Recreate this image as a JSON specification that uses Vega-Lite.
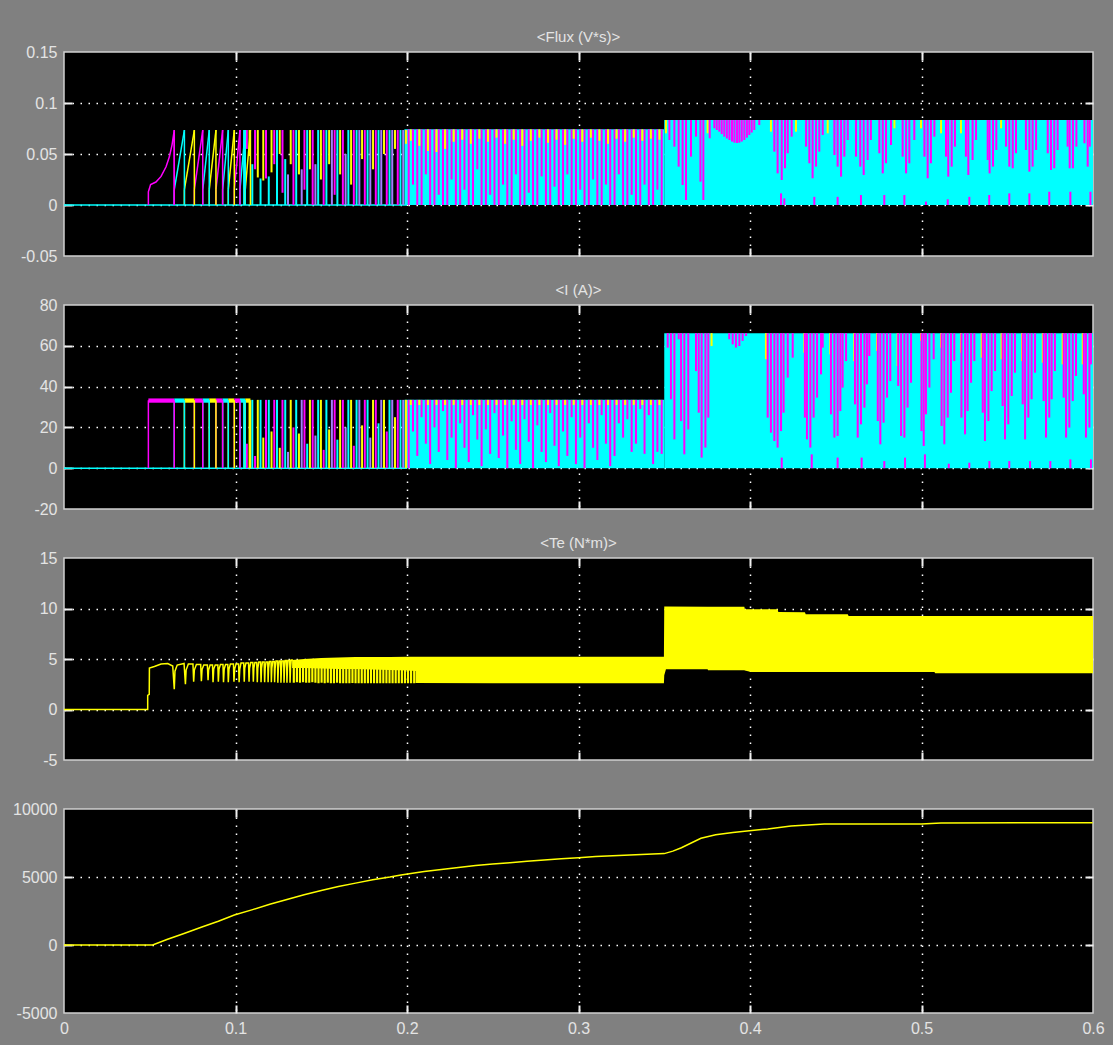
{
"$schema":"https://vega.github.io/schema/vega-lite/v6.json",
"background":"#808080",
"padding":{"left":11,"top":29,"right":10,"bottom":8},
"spacing":49,
"bounds":"flush",
"config":{
"view":{"stroke":"#d0d0d0","strokeWidth":1.5,"fill":"#000000"},
"axis":{"domain":false,"tickSize":-8,"tickColor":"#f0f0f0","tickWidth":2,"labelFont":"Liberation Sans","labelFontSize":16,"labelColor":"#e4e4e4","labelPadding":15,"labelFlush":false,"labelOverlap":false,"gridColor":"#ffffff","gridDash":[1.5,6.5],"gridWidth":1.5},
"title":{"font":"Liberation Sans","fontSize":15,"fontWeight":"normal","color":"#e4e4e4","anchor":"middle","frame":"group","baseline":"bottom","offset":-1}
},
"datasets":{
"Z":[{"s":0,"e":0.2}],
"B":[{"k":"f","s":0.1985,"e":0.35,"lo":0,"hi":0.0742},{"k":"f","s":0.35,"e":0.6,"lo":0,"hi":0.0833},{"k":"i","s":0.1985,"e":0.35,"lo":0,"hi":33.5},{"k":"i","s":0.35,"e":0.6,"lo":0,"hi":66.2}],
"P":[{"p":"m","s":0.0492,"e":0.0643},{"p":"c","s":0.0643,"e":0.0702},{"p":"y","s":0.0702,"e":0.076},{"p":"m","s":0.076,"e":0.0809},{"p":"c","s":0.0809,"e":0.0847},{"p":"y","s":0.0847,"e":0.0886},{"p":"m","s":0.0886,"e":0.0925},{"p":"c","s":0.0925,"e":0.0958},{"p":"y","s":0.0958,"e":0.0993},{"p":"m","s":0.0993,"e":0.1026},{"p":"c","s":0.1026,"e":0.1057},{"p":"y","s":0.1057,"e":0.1087}],
"MC":[{"t":0.0492,"v":0},{"t":0.0492,"v":0.013},{"t":0.0505,"v":0.02},{"t":0.0536,"v":0.0225},{"t":0.0566,"v":0.028},{"t":0.0595,"v":0.0375},{"t":0.0614,"v":0.047},{"t":0.063,"v":0.059},{"t":0.0643,"v":0.0735},{"t":0.0643,"v":0}],
"S":[
{"t":0.1050,"c":"c","fl":0,"fh":0.0735,"il":0,"ih":33.5},
{"t":0.1066,"c":"m","fl":0.055,"fh":0.0735,"il":0,"ih":12},
{"t":0.1082,"c":"y","fl":0.048,"fh":0.0735,"il":0,"ih":33.5},
{"t":0.1098,"c":"c","fl":0,"fh":0.040,"il":0,"ih":33.5},
{"t":0.1114,"c":"m","fl":0.035,"fh":0.0735,"il":0,"ih":6},
{"t":0.1130,"c":"y","fl":0.027,"fh":0.0735,"il":0,"ih":33.5},
{"t":0.1146,"c":"c","fl":0,"fh":0.026,"il":0,"ih":33.5},
{"t":0.1162,"c":"y","fl":0.024,"fh":0.0735,"il":0,"ih":15},
{"t":0.1178,"c":"m","fl":0.026,"fh":0.0735,"il":0,"ih":33.5},
{"t":0.1194,"c":"c","fl":0,"fh":0.028,"il":0,"ih":33.5},
{"t":0.1210,"c":"y","fl":0.032,"fh":0.0735,"il":0,"ih":18},
{"t":0.1226,"c":"m","fl":0.040,"fh":0.0735,"il":0,"ih":33.5},
{"t":0.1242,"c":"c","fl":0,"fh":0.0735,"il":0,"ih":33.5},
{"t":0.1258,"c":"y","fl":0.050,"fh":0.0735,"il":0,"ih":10},
{"t":0.1274,"c":"m","fl":0.012,"fh":0.0735,"il":0,"ih":33.5},
{"t":0.1290,"c":"c","fl":0,"fh":0.045,"il":0,"ih":33.5},
{"t":0.1306,"c":"l","fl":0,"fh":0.030,"il":0,"ih":8},
{"t":0.1322,"c":"y","fl":0.040,"fh":0.0735,"il":0,"ih":33.5},
{"t":0.1338,"c":"m","fl":0,"fh":0.0735,"il":0,"ih":20},
{"t":0.1354,"c":"c","fl":0,"fh":0.0735,"il":0,"ih":33.5},
{"t":0.1370,"c":"y","fl":0.030,"fh":0.0735,"il":0,"ih":17},
{"t":0.1386,"c":"l","fl":0,"fh":0.035,"il":0,"ih":33.5},
{"t":0.1402,"c":"m","fl":0.015,"fh":0.0735,"il":0,"ih":33.5},
{"t":0.1418,"c":"c","fl":0,"fh":0.0735,"il":0,"ih":12},
{"t":0.1434,"c":"y","fl":0.035,"fh":0.0735,"il":0,"ih":33.5},
{"t":0.1450,"c":"m","fl":0,"fh":0.0735,"il":0,"ih":33.5},
{"t":0.1466,"c":"l","fl":0,"fh":0.040,"il":0,"ih":16},
{"t":0.1482,"c":"c","fl":0,"fh":0.0735,"il":0,"ih":33.5},
{"t":0.1498,"c":"y","fl":0.025,"fh":0.0735,"il":0,"ih":33.5},
{"t":0.1514,"c":"m","fl":0,"fh":0.0735,"il":0,"ih":9},
{"t":0.1530,"c":"c","fl":0,"fh":0.0735,"il":0,"ih":33.5},
{"t":0.1546,"c":"y","fl":0.040,"fh":0.0735,"il":0,"ih":19},
{"t":0.1562,"c":"l","fl":0,"fh":0.0735,"il":0,"ih":33.5},
{"t":0.1578,"c":"m","fl":0.010,"fh":0.0735,"il":0,"ih":33.5},
{"t":0.1594,"c":"c","fl":0,"fh":0.0735,"il":0,"ih":14},
{"t":0.1610,"c":"y","fl":0.030,"fh":0.0735,"il":0,"ih":33.5},
{"t":0.1626,"c":"m","fl":0,"fh":0.0735,"il":0,"ih":33.5},
{"t":0.1642,"c":"l","fl":0,"fh":0.050,"il":0,"ih":20},
{"t":0.1658,"c":"c","fl":0,"fh":0.0735,"il":0,"ih":33.5},
{"t":0.1674,"c":"y","fl":0.020,"fh":0.0735,"il":0,"ih":33.5},
{"t":0.1690,"c":"m","fl":0,"fh":0.0735,"il":0,"ih":11},
{"t":0.1706,"c":"c","fl":0,"fh":0.0735,"il":0,"ih":33.5},
{"t":0.1722,"c":"l","fl":0,"fh":0.0735,"il":0,"ih":33.5},
{"t":0.1738,"c":"y","fl":0.045,"fh":0.0735,"il":0,"ih":21},
{"t":0.1754,"c":"m","fl":0,"fh":0.0735,"il":0,"ih":33.5},
{"t":0.1770,"c":"c","fl":0,"fh":0.0735,"il":0,"ih":33.5},
{"t":0.1786,"c":"l","fl":0,"fh":0.0735,"il":0,"ih":15},
{"t":0.1802,"c":"y","fl":0.035,"fh":0.0735,"il":0,"ih":33.5},
{"t":0.1818,"c":"m","fl":0,"fh":0.0735,"il":0,"ih":33.5},
{"t":0.1834,"c":"c","fl":0,"fh":0.0735,"il":0,"ih":22},
{"t":0.1850,"c":"l","fl":0,"fh":0.0735,"il":0,"ih":33.5},
{"t":0.1866,"c":"y","fl":0.05,"fh":0.0735,"il":0,"ih":33.5},
{"t":0.1882,"c":"m","fl":0,"fh":0.0735,"il":0,"ih":18},
{"t":0.1898,"c":"c","fl":0,"fh":0.0735,"il":0,"ih":33.5},
{"t":0.1914,"c":"l","fl":0,"fh":0.0735,"il":0,"ih":33.5},
{"t":0.1930,"c":"y","fl":0.055,"fh":0.0735,"il":0,"ih":25},
{"t":0.1946,"c":"m","fl":0,"fh":0.0735,"il":0,"ih":33.5},
{"t":0.1962,"c":"c","fl":0,"fh":0.0735,"il":0,"ih":33.5},
{"t":0.1978,"c":"l","fl":0,"fh":0.0735,"il":0,"ih":33.5},
{"t":0.1994,"c":"y","fl":0.06,"fh":0.0735,"il":0,"ih":33.5},
{"t":0.2010,"c":"m","fl":0,"fh":0.0742,"il":0,"ih":33.5},
{"t":0.2035,"c":"m","fl":0.02,"fh":0.0742,"il":18,"ih":33.5},
{"t":0.2060,"c":"m","fl":0,"fh":0.0742,"il":6,"ih":33.5},
{"t":0.2085,"c":"m","fl":0,"fh":0.0742,"il":25,"ih":33.5},
{"t":0.2110,"c":"m","fl":0.03,"fh":0.0742,"il":12,"ih":33.5},
{"t":0.2135,"c":"m","fl":0,"fh":0.0742,"il":2,"ih":33.5},
{"t":0.2160,"c":"m","fl":0,"fh":0.0742,"il":20,"ih":33.5},
{"t":0.2185,"c":"m","fl":0.01,"fh":0.0742,"il":8,"ih":33.5},
{"t":0.2210,"c":"m","fl":0,"fh":0.0742,"il":28,"ih":33.5},
{"t":0.2235,"c":"m","fl":0,"fh":0.0742,"il":4,"ih":33.5},
{"t":0.2260,"c":"m","fl":0.025,"fh":0.0742,"il":15,"ih":33.5},
{"t":0.2285,"c":"m","fl":0,"fh":0.0742,"il":0,"ih":33.5},
{"t":0.2310,"c":"m","fl":0,"fh":0.0742,"il":22,"ih":33.5},
{"t":0.2335,"c":"m","fl":0.015,"fh":0.0742,"il":10,"ih":33.5},
{"t":0.2360,"c":"m","fl":0,"fh":0.0742,"il":3,"ih":33.5},
{"t":0.2385,"c":"m","fl":0,"fh":0.0742,"il":26,"ih":33.5},
{"t":0.2410,"c":"m","fl":0.035,"fh":0.0742,"il":14,"ih":33.5},
{"t":0.2435,"c":"m","fl":0,"fh":0.0742,"il":1,"ih":33.5},
{"t":0.2460,"c":"m","fl":0,"fh":0.0742,"il":19,"ih":33.5},
{"t":0.2485,"c":"m","fl":0.01,"fh":0.0742,"il":7,"ih":33.5},
{"t":0.2510,"c":"m","fl":0,"fh":0.0742,"il":27,"ih":33.5},
{"t":0.2535,"c":"m","fl":0,"fh":0.0742,"il":5,"ih":33.5},
{"t":0.2560,"c":"m","fl":0.02,"fh":0.0742,"il":16,"ih":33.5},
{"t":0.2585,"c":"m","fl":0,"fh":0.0742,"il":0,"ih":33.5},
{"t":0.2610,"c":"m","fl":0,"fh":0.0742,"il":23,"ih":33.5},
{"t":0.2635,"c":"m","fl":0.03,"fh":0.0742,"il":9,"ih":33.5},
{"t":0.2660,"c":"m","fl":0,"fh":0.0742,"il":2,"ih":33.5},
{"t":0.2685,"c":"m","fl":0,"fh":0.0742,"il":24,"ih":33.5},
{"t":0.2710,"c":"m","fl":0.012,"fh":0.0742,"il":13,"ih":33.5},
{"t":0.2735,"c":"m","fl":0,"fh":0.0742,"il":0,"ih":33.5},
{"t":0.2760,"c":"m","fl":0,"fh":0.0742,"il":21,"ih":33.5},
{"t":0.2785,"c":"m","fl":0.028,"fh":0.0742,"il":8,"ih":33.5},
{"t":0.2810,"c":"m","fl":0,"fh":0.0742,"il":3,"ih":33.5},
{"t":0.2835,"c":"m","fl":0,"fh":0.0742,"il":27,"ih":33.5},
{"t":0.2860,"c":"m","fl":0.018,"fh":0.0742,"il":11,"ih":33.5},
{"t":0.2885,"c":"m","fl":0,"fh":0.0742,"il":1,"ih":33.5},
{"t":0.2910,"c":"m","fl":0,"fh":0.0742,"il":18,"ih":33.5},
{"t":0.2935,"c":"m","fl":0.03,"fh":0.0742,"il":6,"ih":33.5},
{"t":0.2960,"c":"m","fl":0,"fh":0.0742,"il":25,"ih":33.5},
{"t":0.2985,"c":"m","fl":0,"fh":0.0742,"il":2,"ih":33.5},
{"t":0.3010,"c":"m","fl":0.015,"fh":0.0742,"il":15,"ih":33.5},
{"t":0.3035,"c":"m","fl":0,"fh":0.0742,"il":0,"ih":33.5},
{"t":0.3060,"c":"m","fl":0,"fh":0.0742,"il":22,"ih":33.5},
{"t":0.3085,"c":"m","fl":0.025,"fh":0.0742,"il":10,"ih":33.5},
{"t":0.3110,"c":"m","fl":0,"fh":0.0742,"il":4,"ih":33.5},
{"t":0.3135,"c":"m","fl":0,"fh":0.0742,"il":26,"ih":33.5},
{"t":0.3160,"c":"m","fl":0.02,"fh":0.0742,"il":12,"ih":33.5},
{"t":0.3185,"c":"m","fl":0,"fh":0.0742,"il":1,"ih":33.5},
{"t":0.3210,"c":"m","fl":0,"fh":0.0742,"il":6,"ih":33.5},
{"t":0.3235,"c":"m","fl":0.03,"fh":0.0742,"il":22,"ih":33.5},
{"t":0.3260,"c":"m","fl":0,"fh":0.0742,"il":15,"ih":33.5},
{"t":0.3285,"c":"m","fl":0,"fh":0.0742,"il":24,"ih":33.5},
{"t":0.3310,"c":"m","fl":0.01,"fh":0.0742,"il":8,"ih":33.5},
{"t":0.3335,"c":"m","fl":0,"fh":0.0742,"il":12,"ih":33.5},
{"t":0.3360,"c":"m","fl":0,"fh":0.0742,"il":29,"ih":33.5},
{"t":0.3385,"c":"m","fl":0.02,"fh":0.0742,"il":7,"ih":33.5},
{"t":0.3410,"c":"m","fl":0,"fh":0.0742,"il":26,"ih":33.5},
{"t":0.3435,"c":"m","fl":0,"fh":0.0742,"il":2,"ih":33.5},
{"t":0.3460,"c":"m","fl":0.015,"fh":0.0742,"il":8,"ih":33.5},
{"t":0.3485,"c":"m","fl":0,"fh":0.0742,"il":7,"ih":33.5},
{"t":0.2022,"c":"y","fl":0.063,"fh":0.0742,"il":31,"ih":33.5},
{"t":0.2072,"c":"y","fl":0.058,"fh":0.0742,"il":31,"ih":33.5},
{"t":0.2122,"c":"y","fl":0.053,"fh":0.0742,"il":31,"ih":33.5},
{"t":0.2172,"c":"y","fl":0.052,"fh":0.0742,"il":31,"ih":33.5},
{"t":0.2222,"c":"y","fl":0.055,"fh":0.0742,"il":31,"ih":33.5},
{"t":0.2272,"c":"y","fl":0.062,"fh":0.0742,"il":31,"ih":33.5},
{"t":0.2322,"c":"y","fl":0.064,"fh":0.0742,"il":31,"ih":33.5},
{"t":0.2372,"c":"y","fl":0.060,"fh":0.0742,"il":31,"ih":33.5},
{"t":0.2422,"c":"y","fl":0.065,"fh":0.0742,"il":31,"ih":33.5},
{"t":0.2472,"c":"y","fl":0.062,"fh":0.0742,"il":31,"ih":33.5},
{"t":0.2522,"c":"y","fl":0.066,"fh":0.0742,"il":31,"ih":33.5},
{"t":0.2572,"c":"y","fl":0.060,"fh":0.0742,"il":31,"ih":33.5},
{"t":0.2622,"c":"y","fl":0.064,"fh":0.0742,"il":31,"ih":33.5},
{"t":0.2672,"c":"y","fl":0.058,"fh":0.0742,"il":31,"ih":33.5},
{"t":0.2722,"c":"y","fl":0.063,"fh":0.0742,"il":31,"ih":33.5},
{"t":0.2772,"c":"y","fl":0.066,"fh":0.0742,"il":31,"ih":33.5},
{"t":0.2822,"c":"y","fl":0.061,"fh":0.0742,"il":31,"ih":33.5},
{"t":0.2872,"c":"y","fl":0.064,"fh":0.0742,"il":31,"ih":33.5},
{"t":0.2922,"c":"y","fl":0.059,"fh":0.0742,"il":31,"ih":33.5},
{"t":0.2972,"c":"y","fl":0.065,"fh":0.0742,"il":31,"ih":33.5},
{"t":0.3022,"c":"y","fl":0.062,"fh":0.0742,"il":31,"ih":33.5},
{"t":0.3072,"c":"y","fl":0.066,"fh":0.0742,"il":31,"ih":33.5},
{"t":0.3122,"c":"y","fl":0.063,"fh":0.0742,"il":31,"ih":33.5},
{"t":0.3172,"c":"y","fl":0.060,"fh":0.0742,"il":31,"ih":33.5},
{"t":0.3222,"c":"y","fl":0.065,"fh":0.0742,"il":31,"ih":33.5},
{"t":0.3272,"c":"y","fl":0.062,"fh":0.0742,"il":31,"ih":33.5},
{"t":0.3322,"c":"y","fl":0.066,"fh":0.0742,"il":31,"ih":33.5},
{"t":0.3372,"c":"y","fl":0.063,"fh":0.0742,"il":31,"ih":33.5},
{"t":0.3422,"c":"y","fl":0.065,"fh":0.0742,"il":31,"ih":33.5},
{"t":0.3472,"c":"y","fl":0.064,"fh":0.0742,"il":31,"ih":33.5},
{"t":0.3510,"c":"y","fl":0.0703,"fh":0.0833},
{"t":0.3530,"c":"m","fl":0.0637,"fh":0.0833},
{"t":0.3559,"c":"m","fl":0.0572,"fh":0.0833},
{"t":0.3584,"c":"m","fl":0.0376,"fh":0.0833},
{"t":0.3607,"c":"m","fl":0.0196,"fh":0.0833},
{"t":0.3627,"c":"m","fl":0.0049,"fh":0.0833},
{"t":0.3656,"c":"m","fl":0.0474,"fh":0.0833},
{"t":0.3685,"c":"m","fl":0.0670,"fh":0.0833},
{"t":0.3711,"c":"m","fl":0.0229,"fh":0.0833},
{"t":0.3728,"c":"m","fl":0.0049,"fh":0.0833},
{"t":0.3753,"c":"y","fl":0.0703,"fh":0.0833},
{"t":0.3765,"c":"m","fl":0.0654,"fh":0.0833},
{"t":0.3792,"c":"m","fl":0.0752,"fh":0.0833},
{"t":0.3806,"c":"m","fl":0.0735,"fh":0.0833},
{"t":0.3821,"c":"m","fl":0.0719,"fh":0.0833},
{"t":0.3835,"c":"m","fl":0.0695,"fh":0.0833},
{"t":0.3850,"c":"m","fl":0.0670,"fh":0.0833},
{"t":0.3865,"c":"m","fl":0.0652,"fh":0.0833},
{"t":0.3880,"c":"m","fl":0.0637,"fh":0.0833},
{"t":0.3895,"c":"m","fl":0.0622,"fh":0.0833},
{"t":0.3909,"c":"m","fl":0.0611,"fh":0.0833},
{"t":0.3924,"c":"m","fl":0.0608,"fh":0.0833},
{"t":0.3938,"c":"m","fl":0.0611,"fh":0.0833},
{"t":0.3952,"c":"m","fl":0.0622,"fh":0.0833},
{"t":0.3967,"c":"m","fl":0.0637,"fh":0.0833},
{"t":0.3982,"c":"m","fl":0.0660,"fh":0.0833},
{"t":0.3996,"c":"m","fl":0.0686,"fh":0.0833},
{"t":0.4010,"c":"m","fl":0.0710,"fh":0.0833},
{"t":0.4025,"c":"m","fl":0.0735,"fh":0.0833},
{"t":0.4054,"c":"m","fl":0.0784,"fh":0.0833},
{"t":0.4122,"c":"y","fl":0.0719,"fh":0.0833},
{"t":0.4142,"c":"m","fl":0.0523,"fh":0.0833},
{"t":0.4161,"c":"m","fl":0.0310,"fh":0.0833},
{"t":0.4185,"c":"m","fl":0.0245,"fh":0.0833},
{"t":0.4204,"c":"m","fl":0.0360,"fh":0.0833},
{"t":0.4220,"c":"m","fl":0.0507,"fh":0.0833},
{"t":0.4243,"c":"m","fl":0.0670,"fh":0.0833},
{"t":0.4268,"c":"y","fl":0.0719,"fh":0.0833},
{"t":0.4327,"c":"m","fl":0.0572,"fh":0.0833},
{"t":0.4346,"c":"m","fl":0.0409,"fh":0.0833},
{"t":0.4365,"c":"m","fl":0.0262,"fh":0.0833},
{"t":0.4385,"c":"m","fl":0.0376,"fh":0.0833},
{"t":0.4404,"c":"m","fl":0.0523,"fh":0.0833},
{"t":0.4424,"c":"m","fl":0.0686,"fh":0.0833},
{"t":0.4453,"c":"y","fl":0.0703,"fh":0.0833},
{"t":0.4492,"c":"m","fl":0.0490,"fh":0.0833},
{"t":0.4511,"c":"m","fl":0.0376,"fh":0.0833},
{"t":0.4531,"c":"m","fl":0.0278,"fh":0.0833},
{"t":0.4550,"c":"m","fl":0.0474,"fh":0.0833},
{"t":0.4570,"c":"m","fl":0.0637,"fh":0.0833},
{"t":0.4618,"c":"m","fl":0.0474,"fh":0.0833},
{"t":0.4643,"c":"m","fl":0.0376,"fh":0.0833},
{"t":0.4663,"c":"m","fl":0.0294,"fh":0.0833},
{"t":0.4686,"c":"m","fl":0.0441,"fh":0.0833},
{"t":0.4705,"c":"m","fl":0.0637,"fh":0.0833},
{"t":0.4754,"c":"m","fl":0.0507,"fh":0.0833},
{"t":0.4774,"c":"m","fl":0.0310,"fh":0.0833},
{"t":0.4793,"c":"m","fl":0.0409,"fh":0.0833},
{"t":0.4822,"c":"m","fl":0.0588,"fh":0.0833},
{"t":0.4842,"c":"y","fl":0.0752,"fh":0.0833},
{"t":0.4890,"c":"m","fl":0.0474,"fh":0.0833},
{"t":0.4910,"c":"m","fl":0.0310,"fh":0.0833},
{"t":0.4929,"c":"m","fl":0.0409,"fh":0.0833},
{"t":0.4958,"c":"m","fl":0.0637,"fh":0.0833},
{"t":0.4997,"c":"y","fl":0.0752,"fh":0.0833},
{"t":0.5017,"c":"m","fl":0.0474,"fh":0.0833},
{"t":0.5036,"c":"m","fl":0.0262,"fh":0.0833},
{"t":0.5055,"c":"m","fl":0.0409,"fh":0.0833},
{"t":0.5075,"c":"m","fl":0.0670,"fh":0.0833},
{"t":0.5114,"c":"y","fl":0.0703,"fh":0.0833},
{"t":0.5143,"c":"m","fl":0.0474,"fh":0.0833},
{"t":0.5156,"c":"m","fl":0.0278,"fh":0.0833},
{"t":0.5176,"c":"m","fl":0.0376,"fh":0.0833},
{"t":0.5195,"c":"m","fl":0.0572,"fh":0.0833},
{"t":0.5230,"c":"y","fl":0.0703,"fh":0.0833},
{"t":0.5259,"c":"m","fl":0.0474,"fh":0.0833},
{"t":0.5273,"c":"m","fl":0.0294,"fh":0.0833},
{"t":0.5298,"c":"m","fl":0.0441,"fh":0.0833},
{"t":0.5318,"c":"m","fl":0.0637,"fh":0.0833},
{"t":0.5386,"c":"m","fl":0.0441,"fh":0.0833},
{"t":0.5397,"c":"m","fl":0.0310,"fh":0.0833},
{"t":0.5417,"c":"m","fl":0.0376,"fh":0.0833},
{"t":0.5436,"c":"m","fl":0.0539,"fh":0.0833},
{"t":0.5464,"c":"y","fl":0.0752,"fh":0.0833},
{"t":0.5493,"c":"m","fl":0.0572,"fh":0.0833},
{"t":0.5512,"c":"m","fl":0.0376,"fh":0.0833},
{"t":0.5532,"c":"m","fl":0.0360,"fh":0.0833},
{"t":0.5551,"c":"m","fl":0.0507,"fh":0.0833},
{"t":0.5609,"c":"m","fl":0.0539,"fh":0.0833},
{"t":0.5629,"c":"m","fl":0.0327,"fh":0.0833},
{"t":0.5648,"c":"m","fl":0.0376,"fh":0.0833},
{"t":0.5668,"c":"m","fl":0.0539,"fh":0.0833},
{"t":0.5736,"c":"m","fl":0.0507,"fh":0.0833},
{"t":0.5755,"c":"m","fl":0.0343,"fh":0.0833},
{"t":0.5774,"c":"m","fl":0.0360,"fh":0.0833},
{"t":0.5794,"c":"m","fl":0.0539,"fh":0.0833},
{"t":0.5852,"c":"m","fl":0.0572,"fh":0.0833},
{"t":0.5864,"c":"m","fl":0.0360,"fh":0.0833},
{"t":0.5883,"c":"m","fl":0.0360,"fh":0.0833},
{"t":0.5903,"c":"m","fl":0.0572,"fh":0.0833},
{"t":0.5950,"c":"m","fl":0.0605,"fh":0.0833},
{"t":0.5969,"c":"m","fl":0.0376,"fh":0.0833},
{"t":0.5981,"c":"m","fl":0.0572,"fh":0.0833},
{"t":0.4181,"c":"m","fl":0,"fh":0.0114},
{"t":0.4200,"c":"m","fl":0,"fh":0.0065},
{"t":0.4375,"c":"m","fl":0,"fh":0.008},
{"t":0.4511,"c":"m","fl":0,"fh":0.008},
{"t":0.4647,"c":"m","fl":0,"fh":0.0098},
{"t":0.4783,"c":"m","fl":0,"fh":0.0098},
{"t":0.4900,"c":"m","fl":0,"fh":0.0098},
{"t":0.5026,"c":"m","fl":0,"fh":0.0033},
{"t":0.5153,"c":"m","fl":0,"fh":0.0056},
{"t":0.5279,"c":"m","fl":0,"fh":0.008},
{"t":0.5395,"c":"m","fl":0,"fh":0.0098},
{"t":0.5512,"c":"m","fl":0,"fh":0.0114},
{"t":0.5629,"c":"m","fl":0,"fh":0.0114},
{"t":0.5745,"c":"m","fl":0,"fh":0.013},
{"t":0.5868,"c":"m","fl":0,"fh":0.013},
{"t":0.5985,"c":"m","fl":0,"fh":0.013},
{"t":0.3520,"c":"m","il":59.1,"ih":66.2},
{"t":0.3539,"c":"m","il":33.8,"ih":66.2},
{"t":0.3559,"c":"m","il":14.1,"ih":66.2},
{"t":0.3584,"c":"m","il":63.2,"ih":66.2},
{"t":0.3598,"c":"m","il":23.1,"ih":66.2},
{"t":0.3617,"c":"m","il":6.8,"ih":66.2},
{"t":0.3640,"c":"m","il":19.0,"ih":66.2},
{"t":0.3685,"c":"m","il":47.6,"ih":66.2},
{"t":0.3701,"c":"m","il":27.2,"ih":66.2},
{"t":0.3718,"c":"m","il":5.2,"ih":66.2},
{"t":0.3740,"c":"m","il":10.1,"ih":66.2},
{"t":0.3757,"c":"m","il":24.8,"ih":66.2},
{"t":0.3776,"c":"y","il":59.9,"ih":66.2},
{"t":0.3879,"c":"m","il":63.2,"ih":66.2},
{"t":0.3899,"c":"m","il":60.7,"ih":66.2},
{"t":0.3918,"c":"m","il":59.1,"ih":66.2},
{"t":0.3938,"c":"m","il":59.9,"ih":66.2},
{"t":0.3957,"c":"m","il":62.4,"ih":66.2},
{"t":0.3977,"c":"m","il":64.8,"ih":66.2},
{"t":0.4093,"c":"y","il":53.4,"ih":66.2},
{"t":0.4103,"c":"m","il":24.8,"ih":66.2},
{"t":0.4122,"c":"m","il":17.4,"ih":66.2},
{"t":0.4142,"c":"m","il":13.3,"ih":66.2},
{"t":0.4161,"c":"m","il":10.1,"ih":66.2},
{"t":0.4181,"c":"m","il":18.2,"ih":66.2},
{"t":0.4196,"c":"m","il":27.2,"ih":66.2},
{"t":0.4220,"c":"m","il":44.4,"ih":66.2},
{"t":0.4249,"c":"m","il":54.2,"ih":66.2},
{"t":0.4317,"c":"y","il":56.6,"ih":66.2},
{"t":0.4320,"c":"m","il":24.8,"ih":66.2},
{"t":0.4332,"c":"m","il":14.1,"ih":66.2},
{"t":0.4352,"c":"m","il":10.1,"ih":66.2},
{"t":0.4371,"c":"m","il":24.8,"ih":66.2},
{"t":0.4391,"c":"m","il":34.6,"ih":66.2},
{"t":0.4414,"c":"m","il":46.0,"ih":66.2},
{"t":0.4424,"c":"m","il":59.1,"ih":66.2},
{"t":0.4468,"c":"y","il":55.8,"ih":66.2},
{"t":0.4472,"c":"m","il":26.4,"ih":66.2},
{"t":0.4492,"c":"m","il":15.0,"ih":66.2},
{"t":0.4511,"c":"m","il":15.8,"ih":66.2},
{"t":0.4527,"c":"m","il":28.0,"ih":66.2},
{"t":0.4540,"c":"m","il":39.5,"ih":66.2},
{"t":0.4560,"c":"m","il":52.5,"ih":66.2},
{"t":0.4608,"c":"y","il":52.5,"ih":66.2},
{"t":0.4612,"c":"m","il":31.3,"ih":66.2},
{"t":0.4628,"c":"m","il":15.0,"ih":66.2},
{"t":0.4647,"c":"m","il":21.5,"ih":66.2},
{"t":0.4667,"c":"m","il":29.7,"ih":66.2},
{"t":0.4682,"c":"m","il":41.1,"ih":66.2},
{"t":0.4696,"c":"m","il":55.0,"ih":66.2},
{"t":0.4741,"c":"y","il":57.5,"ih":66.2},
{"t":0.4745,"c":"m","il":23.1,"ih":66.2},
{"t":0.4760,"c":"m","il":11.7,"ih":66.2},
{"t":0.4779,"c":"m","il":22.3,"ih":66.2},
{"t":0.4799,"c":"m","il":34.6,"ih":66.2},
{"t":0.4818,"c":"m","il":42.7,"ih":66.2},
{"t":0.4861,"c":"y","il":50.1,"ih":66.2},
{"t":0.4864,"c":"m","il":40.3,"ih":66.2},
{"t":0.4881,"c":"m","il":15.8,"ih":66.2},
{"t":0.4900,"c":"m","il":15.0,"ih":66.2},
{"t":0.4919,"c":"m","il":29.7,"ih":66.2},
{"t":0.4939,"c":"m","il":41.9,"ih":66.2},
{"t":0.4997,"c":"y","il":62.4,"ih":66.2},
{"t":0.5000,"c":"m","il":18.2,"ih":66.2},
{"t":0.5013,"c":"m","il":10.9,"ih":66.2},
{"t":0.5026,"c":"m","il":26.4,"ih":66.2},
{"t":0.5046,"c":"m","il":39.5,"ih":66.2},
{"t":0.5071,"c":"m","il":53.4,"ih":66.2},
{"t":0.5114,"c":"y","il":59.1,"ih":66.2},
{"t":0.5117,"c":"m","il":20.7,"ih":66.2},
{"t":0.5133,"c":"m","il":11.7,"ih":66.2},
{"t":0.5153,"c":"m","il":24.8,"ih":66.2},
{"t":0.5172,"c":"m","il":37.0,"ih":66.2},
{"t":0.5191,"c":"m","il":52.5,"ih":66.2},
{"t":0.5230,"c":"y","il":56.6,"ih":66.2},
{"t":0.5233,"c":"m","il":24.8,"ih":66.2},
{"t":0.5254,"c":"m","il":16.6,"ih":66.2},
{"t":0.5269,"c":"m","il":28.0,"ih":66.2},
{"t":0.5289,"c":"m","il":41.9,"ih":66.2},
{"t":0.5308,"c":"m","il":52.5,"ih":66.2},
{"t":0.5351,"c":"y","il":54.2,"ih":66.2},
{"t":0.5357,"c":"m","il":27.2,"ih":66.2},
{"t":0.5370,"c":"m","il":13.3,"ih":66.2},
{"t":0.5390,"c":"m","il":23.1,"ih":66.2},
{"t":0.5409,"c":"m","il":37.8,"ih":66.2},
{"t":0.5429,"c":"m","il":47.6,"ih":66.2},
{"t":0.5467,"c":"y","il":53.4,"ih":66.2},
{"t":0.5473,"c":"m","il":30.5,"ih":66.2},
{"t":0.5487,"c":"m","il":14.1,"ih":66.2},
{"t":0.5506,"c":"m","il":21.5,"ih":66.2},
{"t":0.5526,"c":"m","il":35.4,"ih":66.2},
{"t":0.5545,"c":"m","il":46.8,"ih":66.2},
{"t":0.5586,"c":"y","il":52.5,"ih":66.2},
{"t":0.5590,"c":"m","il":31.3,"ih":66.2},
{"t":0.5604,"c":"m","il":14.1,"ih":66.2},
{"t":0.5623,"c":"m","il":24.8,"ih":66.2},
{"t":0.5642,"c":"m","il":33.8,"ih":66.2},
{"t":0.5662,"c":"m","il":46.8,"ih":66.2},
{"t":0.5707,"c":"y","il":51.7,"ih":66.2},
{"t":0.5712,"c":"m","il":32.9,"ih":66.2},
{"t":0.5726,"c":"m","il":15.0,"ih":66.2},
{"t":0.5745,"c":"m","il":24.8,"ih":66.2},
{"t":0.5759,"c":"m","il":33.8,"ih":66.2},
{"t":0.5778,"c":"m","il":47.6,"ih":66.2},
{"t":0.5823,"c":"y","il":50.9,"ih":66.2},
{"t":0.5829,"c":"m","il":34.6,"ih":66.2},
{"t":0.5843,"c":"m","il":15.0,"ih":66.2},
{"t":0.5862,"c":"m","il":19.9,"ih":66.2},
{"t":0.5882,"c":"m","il":32.9,"ih":66.2},
{"t":0.5901,"c":"m","il":45.2,"ih":66.2},
{"t":0.5940,"c":"y","il":50.9,"ih":66.2},
{"t":0.5946,"c":"m","il":36.2,"ih":66.2},
{"t":0.5959,"c":"m","il":15.0,"ih":66.2},
{"t":0.5979,"c":"m","il":19.9,"ih":66.2},
{"t":0.5988,"c":"m","il":50.9,"ih":66.2},
{"t":0.4185,"c":"m","il":0,"ih":5.2},
{"t":0.4360,"c":"m","il":0,"ih":6.8},
{"t":0.4511,"c":"m","il":0,"ih":5.2},
{"t":0.4651,"c":"m","il":0,"ih":5.2},
{"t":0.4783,"c":"m","il":0,"ih":3.5},
{"t":0.4904,"c":"m","il":0,"ih":5.2},
{"t":0.5020,"c":"m","il":0,"ih":6.8},
{"t":0.5159,"c":"m","il":0,"ih":2.2},
{"t":0.5279,"c":"m","il":0,"ih":2.7},
{"t":0.5396,"c":"m","il":0,"ih":3.5},
{"t":0.5512,"c":"m","il":0,"ih":3.5},
{"t":0.5633,"c":"m","il":0,"ih":3.5},
{"t":0.5751,"c":"m","il":0,"ih":3.5},
{"t":0.5868,"c":"m","il":0,"ih":4.3},
{"t":0.5988,"c":"m","il":0,"ih":4.3}
],
"TL":[{"t":0,"v":0},{"t":0.0488,"v":0},{"t":0.0488,"v":1.4},{"t":0.0497,"v":1.5},{"t":0.0498,"v":4.1},{"t":0.0527,"v":4.25},{"t":0.0566,"v":4.5},{"t":0.0605,"v":4.55},{"t":0.0634,"v":4.3},{"t":0.0643,"v":2.0},{"t":0.0647,"v":3.8},{"t":0.066,"v":4.4},{"t":0.07,"v":4.55},{"t":0.0708,"v":2.5},{"t":0.0712,"v":3.9},{"t":0.0725,"v":4.5},{"t":0.0752,"v":4.5},{"t":0.0756,"v":2.75},{"t":0.076,"v":3.9},{"t":0.0772,"v":4.45},{"t":0.0797,"v":4.45},{"t":0.0801,"v":2.8},{"t":0.0805,"v":3.95},{"t":0.0815,"v":4.4},{"t":0.0836,"v":4.4},{"t":0.084,"v":2.9},{"t":0.0843,"v":3.9},{"t":0.0852,"v":4.4},{"t":0.0866,"v":4.4},{"t":0.0869,"v":2.7},{"t":0.0873,"v":4.0},{"t":0.0882,"v":4.4},{"t":0.0897,"v":4.4},{"t":0.09,"v":2.75},{"t":0.0904,"v":4.0},{"t":0.0912,"v":4.45},{"t":0.0927,"v":4.45},{"t":0.093,"v":2.7},{"t":0.0934,"v":4.0},{"t":0.0942,"v":4.45},{"t":0.0955,"v":4.45},{"t":0.0958,"v":2.7},{"t":0.0962,"v":4.0},{"t":0.097,"v":4.5},{"t":0.0988,"v":4.5},{"t":0.0991,"v":2.75},{"t":0.0995,"v":4.0},{"t":0.1003,"v":4.5},{"t":0.1018,"v":4.5},{"t":0.1021,"v":2.7},{"t":0.1025,"v":4.0},{"t":0.1032,"v":4.6},{"t":0.1048,"v":4.6},{"t":0.1051,"v":2.75},{"t":0.1054,"v":4.1},{"t":0.1061,"v":4.6},{"t":0.1076,"v":4.6},{"t":0.1079,"v":2.75},{"t":0.1082,"v":4.1},{"t":0.1089,"v":4.65},{"t":0.1101,"v":4.65},{"t":0.1104,"v":2.75},{"t":0.1107,"v":4.1},{"t":0.1113,"v":4.65},{"t":0.1124,"v":4.65},{"t":0.1127,"v":2.7},{"t":0.113,"v":4.1},{"t":0.1136,"v":4.7},{"t":0.1146,"v":4.7},{"t":0.1149,"v":2.7},{"t":0.1152,"v":4.1},{"t":0.1157,"v":4.7},{"t":0.1167,"v":4.7},{"t":0.117,"v":2.7},{"t":0.1173,"v":4.1},{"t":0.1178,"v":4.7},{"t":0.1188,"v":4.7},{"t":0.119,"v":2.7},{"t":0.1193,"v":4.1},{"t":0.1198,"v":4.75},{"t":0.1207,"v":4.75},{"t":0.1209,"v":2.7},{"t":0.1212,"v":4.1},{"t":0.1217,"v":4.75},{"t":0.1226,"v":4.75},{"t":0.1228,"v":2.7},{"t":0.1231,"v":4.1},{"t":0.1236,"v":4.8},{"t":0.1245,"v":4.8},{"t":0.1247,"v":2.65},{"t":0.125,"v":4.1},{"t":0.1255,"v":4.8},{"t":0.1263,"v":4.8},{"t":0.1265,"v":2.65},{"t":0.1268,"v":4.1},{"t":0.1272,"v":4.8},{"t":0.1281,"v":4.8},{"t":0.1283,"v":2.65},{"t":0.1286,"v":4.1},{"t":0.129,"v":4.85},{"t":0.1298,"v":4.85},{"t":0.13,"v":2.65},{"t":0.1303,"v":4.1},{"t":0.1307,"v":4.85},{"t":0.1316,"v":4.85},{"t":0.1318,"v":2.65},{"t":0.1321,"v":4.1},{"t":0.1325,"v":4.9},{"t":0.1335,"v":4.9}],
"TB":[{"t":0.133,"hi":4.9,"lo":4.1},{"t":0.14,"hi":5.0,"lo":4.1},{"t":0.15,"hi":5.1,"lo":4.05},{"t":0.16,"hi":5.15,"lo":4.0},{"t":0.17,"hi":5.2,"lo":4.0},{"t":0.18,"hi":5.2,"lo":3.95},{"t":0.19,"hi":5.2,"lo":3.9},{"t":0.2,"hi":5.22,"lo":3.85},{"t":0.205,"hi":5.22,"lo":3.8},{"t":0.205,"hi":5.22,"lo":2.62},{"t":0.25,"hi":5.23,"lo":2.6},{"t":0.3,"hi":5.23,"lo":2.6},{"t":0.3498,"hi":5.23,"lo":2.59},{"t":0.35,"hi":10.2,"lo":3.4},{"t":0.351,"hi":10.2,"lo":3.98},{"t":0.3753,"hi":10.18,"lo":3.98},{"t":0.3755,"hi":10.18,"lo":3.88},{"t":0.3967,"hi":10.18,"lo":3.88},{"t":0.397,"hi":9.92,"lo":3.85},{"t":0.4006,"hi":9.92,"lo":3.71},{"t":0.4161,"hi":9.92,"lo":3.71},{"t":0.4165,"hi":9.65,"lo":3.71},{"t":0.432,"hi":9.62,"lo":3.71},{"t":0.4325,"hi":9.42,"lo":3.71},{"t":0.457,"hi":9.42,"lo":3.71},{"t":0.4575,"hi":9.26,"lo":3.71},{"t":0.5075,"hi":9.26,"lo":3.71},{"t":0.508,"hi":9.26,"lo":3.58},{"t":0.6,"hi":9.26,"lo":3.58}],
"TS":[{"t":0.134,"lo":2.65},{"t":0.1358,"lo":2.7},{"t":0.1376,"lo":2.65},{"t":0.1394,"lo":2.7},{"t":0.1412,"lo":2.65},{"t":0.143,"lo":2.65},{"t":0.1448,"lo":2.7},{"t":0.1466,"lo":2.65},{"t":0.1484,"lo":2.6},{"t":0.1502,"lo":2.65},{"t":0.152,"lo":2.6},{"t":0.1538,"lo":2.65},{"t":0.1556,"lo":2.6},{"t":0.1574,"lo":2.6},{"t":0.1592,"lo":2.65},{"t":0.161,"lo":2.6},{"t":0.1628,"lo":2.6},{"t":0.1646,"lo":2.6},{"t":0.1664,"lo":2.6},{"t":0.1682,"lo":2.62},{"t":0.17,"lo":2.6},{"t":0.1718,"lo":2.6},{"t":0.1736,"lo":2.6},{"t":0.1754,"lo":2.6},{"t":0.1772,"lo":2.6},{"t":0.179,"lo":2.6},{"t":0.1808,"lo":2.6},{"t":0.1826,"lo":2.6},{"t":0.1844,"lo":2.6},{"t":0.1862,"lo":2.6},{"t":0.188,"lo":2.6},{"t":0.1898,"lo":2.6},{"t":0.1916,"lo":2.6},{"t":0.1934,"lo":2.6},{"t":0.1952,"lo":2.6},{"t":0.197,"lo":2.6},{"t":0.1988,"lo":2.6},{"t":0.2006,"lo":2.6},{"t":0.2024,"lo":2.6},{"t":0.2042,"lo":2.6}],
"SP":[{"t":0,"v":0},{"t":0.0517,"v":0},{"t":0.06,"v":400},{"t":0.07,"v":850},{"t":0.08,"v":1300},{"t":0.09,"v":1750},{"t":0.0993,"v":2200},{"t":0.11,"v":2600},{"t":0.12,"v":3000},{"t":0.13,"v":3350},{"t":0.14,"v":3700},{"t":0.15,"v":4000},{"t":0.16,"v":4300},{"t":0.17,"v":4550},{"t":0.18,"v":4800},{"t":0.19,"v":5000},{"t":0.1965,"v":5150},{"t":0.21,"v":5400},{"t":0.22,"v":5550},{"t":0.23,"v":5700},{"t":0.24,"v":5850},{"t":0.25,"v":5950},{"t":0.26,"v":6050},{"t":0.27,"v":6150},{"t":0.28,"v":6250},{"t":0.29,"v":6350},{"t":0.3,"v":6420},{"t":0.31,"v":6500},{"t":0.32,"v":6560},{"t":0.33,"v":6620},{"t":0.34,"v":6680},{"t":0.35,"v":6720},{"t":0.355,"v":6900},{"t":0.36,"v":7150},{"t":0.3714,"v":7843},{"t":0.38,"v":8100},{"t":0.39,"v":8280},{"t":0.3996,"v":8407},{"t":0.4103,"v":8529},{"t":0.4239,"v":8750},{"t":0.4433,"v":8897},{"t":0.5,"v":8897},{"t":0.5114,"v":8971},{"t":0.5998,"v":8995}]
},
"vconcat":[
{
"width":1029,"height":204,
"title":{"text":"<Flux (V*s)>"},
"resolve":{"axis":{"x":"independent","y":"independent"}},
"layer":[
{"data":{"values":[{"t":0,"v":0}]},"mark":{"type":"point","opacity":0},"encoding":{
"x":{"field":"t","type":"quantitative","scale":{"domain":[0,0.6],"nice":false,"zero":false},"axis":{"orient":"bottom","title":null,"values":[0,0.1,0.2,0.3,0.4,0.5,0.6],"labels":false,"grid":true,"gridOpacity":{"condition":{"test":"datum.index==0||datum.index==1","value":0},"value":1},"tickOpacity":{"condition":{"test":"datum.index==0||datum.index==1","value":0},"value":1}}},
"y":{"field":"v","type":"quantitative","scale":{"domain":[-0.05,0.15],"nice":false,"zero":false},"axis":{"orient":"left","title":null,"values":[-0.05,0,0.05,0.1,0.15],"labelExpr":"datum.value<0?'-'+format(-datum.value,'~g'):format(datum.value,'~g')","grid":true,"gridOpacity":{"condition":{"test":"datum.index==0||datum.index==1","value":0},"value":1},"tickOpacity":{"condition":{"test":"datum.index==0||datum.index==1","value":0},"value":1}}}}},
{"data":{"values":[{"t":0,"v":0}]},"mark":{"type":"point","opacity":0},"encoding":{
"x":{"field":"t","type":"quantitative","axis":{"orient":"top","title":null,"values":[0,0.1,0.2,0.3,0.4,0.5,0.6],"labels":false,"grid":false,"tickOpacity":{"condition":{"test":"datum.index==0||datum.index==1","value":0},"value":1}}},
"y":{"field":"v","type":"quantitative","axis":{"orient":"right","title":null,"values":[-0.05,0,0.05,0.1,0.15],"labels":false,"grid":false,"tickOpacity":{"condition":{"test":"datum.index==0||datum.index==1","value":0},"value":1}}}}},
{"data":{"name":"Z"},"mark":{"type":"rule","color":"#00ffff","strokeWidth":1.5},"encoding":{"x":{"field":"s","type":"quantitative","axis":null},"x2":{"field":"e"},"y":{"datum":0,"type":"quantitative","axis":null}}},
{"data":{"name":"B"},"transform":[{"filter":"datum.k=='f'"}],"mark":{"type":"rect","color":"#00ffff"},"encoding":{"x":{"field":"s","type":"quantitative","axis":null},"x2":{"field":"e"},"y":{"field":"lo","type":"quantitative","axis":null},"y2":{"field":"hi"}}},
{"data":{"name":"S"},"transform":[{"filter":"isValid(datum.fh)"}],"mark":{"type":"rule","strokeWidth":2},"encoding":{"x":{"field":"t","type":"quantitative","axis":null},"y":{"field":"fl","type":"quantitative","axis":null},"y2":{"field":"fh"},"color":{"field":"c","type":"nominal","scale":{"domain":["y","m","c","l"],"range":["#ffff00","#ff00ff","#00ffff","#a57cff"]},"legend":null}}},
{"data":{"name":"P"},"transform":[{"filter":"datum.s>0.05"}],"mark":{"type":"rule","strokeWidth":1.5},"encoding":{"x":{"field":"s","type":"quantitative","axis":null},"y":{"datum":0,"type":"quantitative","axis":null},"y2":{"datum":0.015},"color":{"field":"p","type":"nominal","scale":{"domain":["y","m","c","l"],"range":["#ffff00","#ff00ff","#00ffff","#a57cff"]},"legend":null}}},
{"data":{"name":"P"},"transform":[{"filter":"datum.s>0.05"}],"mark":{"type":"rule","strokeWidth":1.5},"encoding":{"x":{"field":"s","type":"quantitative","axis":null},"x2":{"field":"e"},"y":{"datum":0.015,"type":"quantitative","axis":null},"y2":{"datum":0.0735},"color":{"field":"p","type":"nominal","scale":{"domain":["y","m","c","l"],"range":["#ffff00","#ff00ff","#00ffff","#a57cff"]},"legend":null}}},
{"data":{"name":"P"},"mark":{"type":"rule","strokeWidth":1.5},"encoding":{"x":{"field":"e","type":"quantitative","axis":null},"y":{"datum":0.0735,"type":"quantitative","axis":null},"y2":{"datum":0},"color":{"field":"p","type":"nominal","scale":{"domain":["y","m","c","l"],"range":["#ffff00","#ff00ff","#00ffff","#a57cff"]},"legend":null}}},
{"data":{"name":"MC"},"mark":{"type":"line","color":"#ff00ff","strokeWidth":1.5},"encoding":{"x":{"field":"t","type":"quantitative","axis":null},"y":{"field":"v","type":"quantitative","axis":null},"order":{"value":null}}}
]
},
{
"width":1029,"height":204,
"title":{"text":"<I (A)>"},
"resolve":{"axis":{"x":"independent","y":"independent"}},
"layer":[
{"data":{"values":[{"t":0,"v":0}]},"mark":{"type":"point","opacity":0},"encoding":{
"x":{"field":"t","type":"quantitative","scale":{"domain":[0,0.6],"nice":false,"zero":false},"axis":{"orient":"bottom","title":null,"values":[0,0.1,0.2,0.3,0.4,0.5,0.6],"labels":false,"grid":true,"gridOpacity":{"condition":{"test":"datum.index==0||datum.index==1","value":0},"value":1},"tickOpacity":{"condition":{"test":"datum.index==0||datum.index==1","value":0},"value":1}}},
"y":{"field":"v","type":"quantitative","scale":{"domain":[-20,80],"nice":false,"zero":false},"axis":{"orient":"left","title":null,"values":[-20,0,20,40,60,80],"labelExpr":"datum.value<0?'-'+format(-datum.value,'~g'):format(datum.value,'~g')","grid":true,"gridOpacity":{"condition":{"test":"datum.index==0||datum.index==1","value":0},"value":1},"tickOpacity":{"condition":{"test":"datum.index==0||datum.index==1","value":0},"value":1}}}}},
{"data":{"values":[{"t":0,"v":0}]},"mark":{"type":"point","opacity":0},"encoding":{
"x":{"field":"t","type":"quantitative","axis":{"orient":"top","title":null,"values":[0,0.1,0.2,0.3,0.4,0.5,0.6],"labels":false,"grid":false,"tickOpacity":{"condition":{"test":"datum.index==0||datum.index==1","value":0},"value":1}}},
"y":{"field":"v","type":"quantitative","axis":{"orient":"right","title":null,"values":[-20,0,20,40,60,80],"labels":false,"grid":false,"tickOpacity":{"condition":{"test":"datum.index==0||datum.index==1","value":0},"value":1}}}}},
{"data":{"name":"Z"},"mark":{"type":"rule","color":"#00ffff","strokeWidth":1.5},"encoding":{"x":{"field":"s","type":"quantitative","axis":null},"x2":{"field":"e"},"y":{"datum":0,"type":"quantitative","axis":null}}},
{"data":{"name":"B"},"transform":[{"filter":"datum.k=='i'"}],"mark":{"type":"rect","color":"#00ffff"},"encoding":{"x":{"field":"s","type":"quantitative","axis":null},"x2":{"field":"e"},"y":{"field":"lo","type":"quantitative","axis":null},"y2":{"field":"hi"}}},
{"data":{"name":"S"},"transform":[{"filter":"isValid(datum.ih)"}],"mark":{"type":"rule","strokeWidth":2},"encoding":{"x":{"field":"t","type":"quantitative","axis":null},"y":{"field":"il","type":"quantitative","axis":null},"y2":{"field":"ih"},"color":{"field":"c","type":"nominal","scale":{"domain":["y","m","c","l"],"range":["#ffff00","#ff00ff","#00ffff","#a57cff"]},"legend":null}}},
{"data":{"name":"P"},"mark":{"type":"rule","strokeWidth":1.5},"encoding":{"x":{"field":"s","type":"quantitative","axis":null},"y":{"datum":0,"type":"quantitative","axis":null},"y2":{"datum":33.3},"color":{"field":"p","type":"nominal","scale":{"domain":["y","m","c","l"],"range":["#ffff00","#ff00ff","#00ffff","#a57cff"]},"legend":null}}},
{"data":{"name":"P"},"mark":{"type":"rect"},"encoding":{"x":{"field":"s","type":"quantitative","axis":null},"x2":{"field":"e"},"y":{"datum":32.1,"type":"quantitative","axis":null},"y2":{"datum":34.2},"color":{"field":"p","type":"nominal","scale":{"domain":["y","m","c","l"],"range":["#ffff00","#ff00ff","#00ffff","#a57cff"]},"legend":null}}},
{"data":{"name":"P"},"mark":{"type":"rule","strokeWidth":1.5},"encoding":{"x":{"field":"e","type":"quantitative","axis":null},"y":{"datum":33.3,"type":"quantitative","axis":null},"y2":{"datum":0},"color":{"field":"p","type":"nominal","scale":{"domain":["y","m","c","l"],"range":["#ffff00","#ff00ff","#00ffff","#a57cff"]},"legend":null}}}
]
},
{
"width":1029,"height":202,
"title":{"text":"<Te (N*m)>"},
"resolve":{"axis":{"x":"independent","y":"independent"}},
"layer":[
{"data":{"values":[{"t":0,"v":0}]},"mark":{"type":"point","opacity":0},"encoding":{
"x":{"field":"t","type":"quantitative","scale":{"domain":[0,0.6],"nice":false,"zero":false},"axis":{"orient":"bottom","title":null,"values":[0,0.1,0.2,0.3,0.4,0.5,0.6],"labels":false,"grid":true,"gridOpacity":{"condition":{"test":"datum.index==0||datum.index==1","value":0},"value":1},"tickOpacity":{"condition":{"test":"datum.index==0||datum.index==1","value":0},"value":1}}},
"y":{"field":"v","type":"quantitative","scale":{"domain":[-5,15],"nice":false,"zero":false},"axis":{"orient":"left","title":null,"values":[-5,0,5,10,15],"labelExpr":"datum.value<0?'-'+format(-datum.value,'~g'):format(datum.value,'~g')","grid":true,"gridOpacity":{"condition":{"test":"datum.index==0||datum.index==1","value":0},"value":1},"tickOpacity":{"condition":{"test":"datum.index==0||datum.index==1","value":0},"value":1}}}}},
{"data":{"values":[{"t":0,"v":0}]},"mark":{"type":"point","opacity":0},"encoding":{
"x":{"field":"t","type":"quantitative","axis":{"orient":"top","title":null,"values":[0,0.1,0.2,0.3,0.4,0.5,0.6],"labels":false,"grid":false,"tickOpacity":{"condition":{"test":"datum.index==0||datum.index==1","value":0},"value":1}}},
"y":{"field":"v","type":"quantitative","axis":{"orient":"right","title":null,"values":[-5,0,5,10,15],"labels":false,"grid":false,"tickOpacity":{"condition":{"test":"datum.index==0||datum.index==1","value":0},"value":1}}}}},
{"data":{"name":"TB"},"mark":{"type":"area","color":"#ffff00"},"encoding":{"x":{"field":"t","type":"quantitative","axis":null},"y":{"field":"hi","type":"quantitative","axis":null},"y2":{"field":"lo"},"order":{"value":null}}},
{"data":{"name":"TS"},"mark":{"type":"rule","color":"#ffff00","strokeWidth":2.2},"encoding":{"x":{"field":"t","type":"quantitative","axis":null},"y":{"field":"lo","type":"quantitative","axis":null},"y2":{"datum":4.2}}},
{"data":{"name":"TL"},"mark":{"type":"line","color":"#ffff00","strokeWidth":1.5},"encoding":{"x":{"field":"t","type":"quantitative","axis":null},"y":{"field":"v","type":"quantitative","axis":null},"order":{"value":null}}}
]
},
{
"width":1029,"height":204,
"resolve":{"axis":{"x":"independent","y":"independent"}},
"layer":[
{"data":{"values":[{"t":0,"v":0}]},"mark":{"type":"point","opacity":0},"encoding":{
"x":{"field":"t","type":"quantitative","scale":{"domain":[0,0.6],"nice":false,"zero":false},"axis":{"orient":"bottom","title":null,"values":[0,0.1,0.2,0.3,0.4,0.5,0.6],"labels":true,"labelExpr":"format(datum.value,'~g')","grid":true,"gridOpacity":{"condition":{"test":"datum.index==0||datum.index==1","value":0},"value":1},"tickOpacity":{"condition":{"test":"datum.index==0||datum.index==1","value":0},"value":1}}},
"y":{"field":"v","type":"quantitative","scale":{"domain":[-5000,10000],"nice":false,"zero":false},"axis":{"orient":"left","title":null,"values":[-5000,0,5000,10000],"labelExpr":"datum.value<0?'-'+format(-datum.value,'~g'):format(datum.value,'~g')","grid":true,"gridOpacity":{"condition":{"test":"datum.index==0||datum.index==1","value":0},"value":1},"tickOpacity":{"condition":{"test":"datum.index==0||datum.index==1","value":0},"value":1}}}}},
{"data":{"values":[{"t":0,"v":0}]},"mark":{"type":"point","opacity":0},"encoding":{
"x":{"field":"t","type":"quantitative","axis":{"orient":"top","title":null,"values":[0,0.1,0.2,0.3,0.4,0.5,0.6],"labels":false,"grid":false,"tickOpacity":{"condition":{"test":"datum.index==0||datum.index==1","value":0},"value":1}}},
"y":{"field":"v","type":"quantitative","axis":{"orient":"right","title":null,"values":[-5000,0,5000,10000],"labels":false,"grid":false,"tickOpacity":{"condition":{"test":"datum.index==0||datum.index==1","value":0},"value":1}}}}},
{"data":{"name":"SP"},"mark":{"type":"line","color":"#ffff00","strokeWidth":1.5},"encoding":{"x":{"field":"t","type":"quantitative","axis":null},"y":{"field":"v","type":"quantitative","axis":null},"order":{"value":null}}}
]
}
]
}
